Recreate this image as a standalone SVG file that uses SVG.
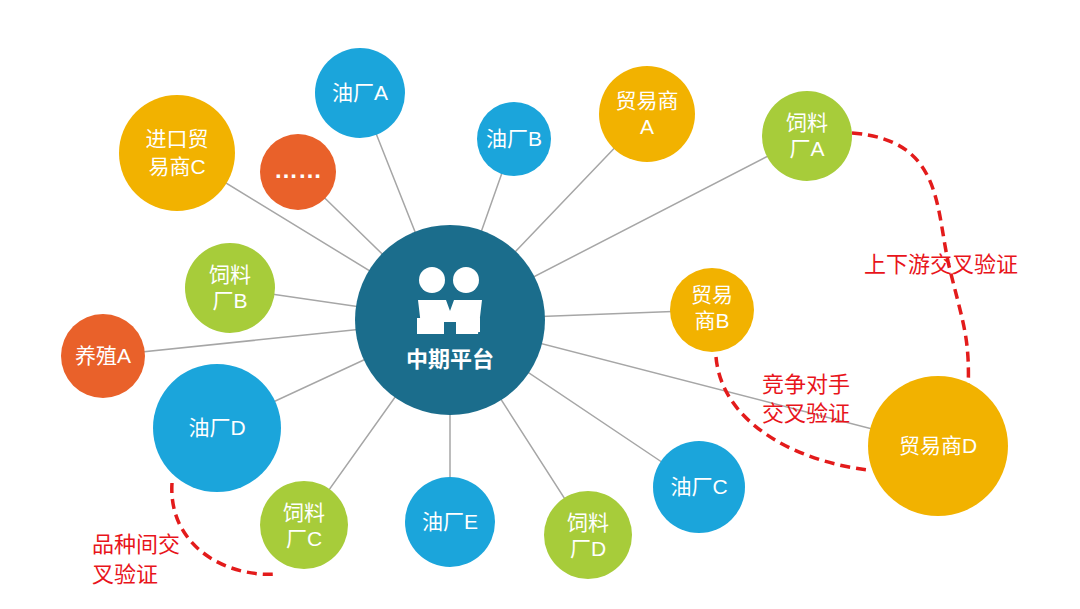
<svg xmlns="http://www.w3.org/2000/svg" width="1080" height="609" viewBox="0 0 1080 609">
<style>
.l{stroke:#a6a6a6;stroke-width:1.5;fill:none}
.t{font-family:"Liberation Sans","Noto Sans CJK SC",sans-serif;fill:#fff;font-size:21px;text-anchor:middle}
.r{font-family:"Liberation Sans","Noto Sans CJK SC",sans-serif;fill:#e8141b;font-size:22px}
.d{stroke:#e31b1b;stroke-width:3.5;fill:none;stroke-dasharray:10 6}
.b{fill:#1ba5db}.o{fill:#f2b200}.g{fill:#a7cc3a}.e{fill:#e9612a}
</style>
<rect width="1080" height="609" fill="#fff"/>
<g id="connectors">
<path class="l" d="M450,320L360,93M450,320L514,139M450,320L647,114M450,320L807,136M450,320L177,153M450,320L298,172M450,320L230,288M450,320L103,356M450,320L712,310M450,320L217,428M450,320L938,446M450,320L304,525M450,320L450,522M450,320L588,535M450,320L699,487"/>
<path class="d" d="M852,133C945,140 935,210 950,270S970,340 968,395"/>
<path class="d" d="M716,357C722,425 800,462 868,470"/>
<path class="d" d="M172,483C168,545 225,578 278,574"/>
</g>
<g id="oilA"><circle class="b" cx="360" cy="93" r="45"/><text class="t" x="360" y="100">油厂A</text></g>
<g id="oilB"><circle class="b" cx="514" cy="139" r="37"/><text class="t" x="514" y="146">油厂B</text></g>
<g id="traderA"><circle class="o" cx="647" cy="114" r="48"/><text class="t" x="647" y="108">贸易商</text><text class="t" x="647" y="134">A</text></g>
<g id="feedA"><circle class="g" cx="807" cy="136" r="45"/><text class="t" x="807" y="130">饲料</text><text class="t" x="807" y="156">厂A</text></g>
<g id="importC"><circle class="o" cx="177" cy="153" r="58"/><text class="t" x="177" y="146">进口贸</text><text class="t" x="177" y="174">易商C</text></g>
<g id="more"><circle class="e" cx="298" cy="172" r="38"/><text class="t" x="298" y="178" style="font-weight:bold;font-size:24px">……</text></g>
<g id="feedB"><circle class="g" cx="230" cy="288" r="45"/><text class="t" x="230" y="282">饲料</text><text class="t" x="230" y="308">厂B</text></g>
<g id="farmA"><circle class="e" cx="103" cy="356" r="42"/><text class="t" x="103" y="363">养殖A</text></g>
<g id="traderB"><circle class="o" cx="712" cy="310" r="42"/><text class="t" x="712" y="302">贸易</text><text class="t" x="712" y="328">商B</text></g>
<g id="oilD"><circle class="b" cx="217" cy="428" r="64"/><text class="t" x="217" y="435">油厂D</text></g>
<g id="traderD"><circle class="o" cx="938" cy="446" r="70"/><text class="t" x="938" y="453">贸易商D</text></g>
<g id="feedC"><circle class="g" cx="304" cy="525" r="44"/><text class="t" x="304" y="520">饲料</text><text class="t" x="304" y="546">厂C</text></g>
<g id="oilE"><circle class="b" cx="450" cy="522" r="45"/><text class="t" x="450" y="529">油厂E</text></g>
<g id="feedD"><circle class="g" cx="588" cy="535" r="44"/><text class="t" x="588" y="530">饲料</text><text class="t" x="588" y="556">厂D</text></g>
<g id="oilC"><circle class="b" cx="699" cy="487" r="46"/><text class="t" x="699" y="494">油厂C</text></g>
<g id="center"><circle cx="450" cy="320" r="95" fill="#1b6d8c"/>
<g fill="#fff"><circle cx="432" cy="280" r="13"/><circle cx="466" cy="280" r="13"/>
<path d="M418,300h28l8,22h-10v12h-22z"/><path d="M482,300h-28l-8,22h10v12h22z"/>
<rect x="417" y="318" width="12" height="16"/><rect x="464" y="318" width="16" height="14"/></g>
<text class="t" x="450" y="367" style="font-weight:bold;font-size:22px">中期平台</text></g>
<g id="labels">
<text class="r" x="864" y="272">上下游交叉验证</text>
<text class="r" x="762" y="392">竞争对手</text><text class="r" x="762" y="421">交叉验证</text>
<text class="r" x="92" y="552">品种间交</text><text class="r" x="92" y="582">叉验证</text>
</g>
</svg>
